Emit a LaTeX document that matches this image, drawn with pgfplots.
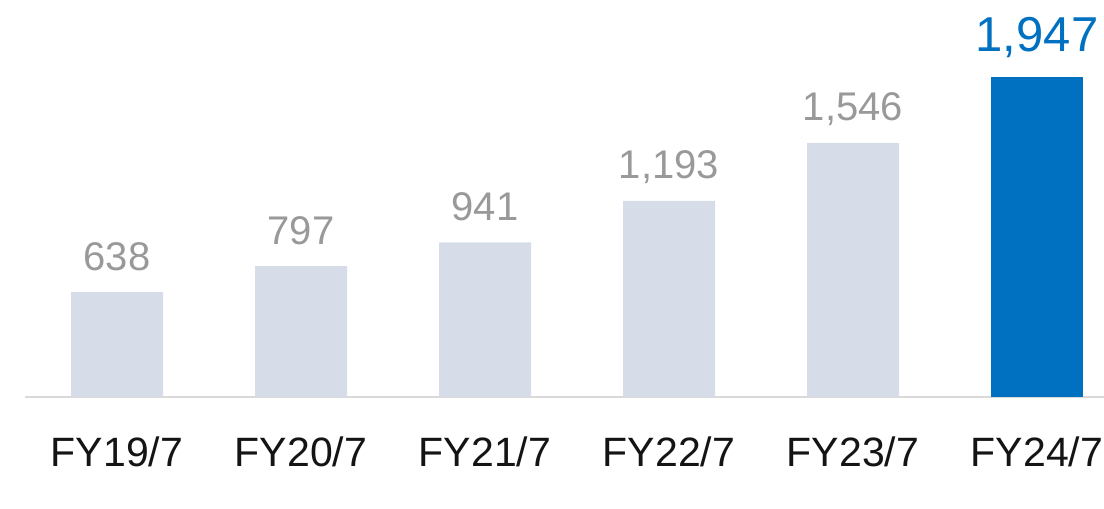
\documentclass[border=0pt]{standalone}
\usepackage{pgfplots}
\pgfplotsset{compat=1.18}
\usepackage{fontspec}
\setmainfont{Liberation Sans}
\definecolor{barg}{HTML}{D6DCE8}
\definecolor{barb}{HTML}{0070C0}
\definecolor{valg}{HTML}{999999}
\definecolor{axg}{HTML}{D9D9D9}
\begin{document}
\begin{tikzpicture}
\begin{axis}[
  at={(12.5bp,56bp)}, anchor=south west,
  scale only axis, width=539.5bp, height=198.5bp,
  xmin=-0.5, xmax=5.364, ymin=0, ymax=2415.5,
  axis x line*=bottom, axis y line=none,
  x axis line style={axg, line width=1.2bp},
  xtick={0,1,2,3,4,5},
  xticklabels={FY19/7,FY20/7,FY21/7,FY22/7,FY23/7,FY24/7},
  major tick length=0pt,
  xticklabel style={anchor=base, yshift=-35bp, font=\fontsize{20.5bp}{24bp}\selectfont, text=black!92},
  ytick=\empty,
  clip=false,
  ybar, bar width=46bp, bar shift=0pt,
  nodes near coords,
  /pgf/number format/assume math mode=true,
  /pgf/number format/1000 sep={,},
]
\addplot[fill=barg, draw=none, nodes near coords style={anchor=base, yshift=11bp, font=\fontsize{20bp}{24bp}\selectfont, text=valg}]
  coordinates {(0,638) (1,797) (2,941) (3,1193) (4,1546)};
\addplot[fill=barb, draw=none, nodes near coords style={anchor=base, yshift=12.5bp, font=\fontsize{24.5bp}{28bp}\selectfont, text=barb}]
  coordinates {(5,1947)};
\end{axis}
\pgfresetboundingbox
\path[use as bounding box] (0,0) rectangle (552bp,254.5bp);
\end{tikzpicture}
\end{document}
